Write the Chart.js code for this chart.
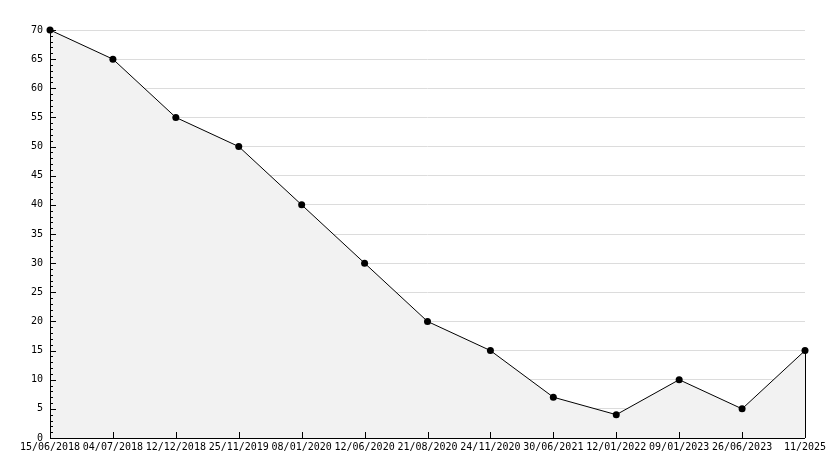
<!DOCTYPE html>
<html>
<head>
<meta charset="utf-8">
<script src="https://cdn.jsdelivr.net/npm/chart.js@4"></script>
<style>
  html, body { margin: 0; padding: 0; background: #fff; }
  #wrap { width: 834px; height: 468px; }
</style>
</head>
<body>
<div id="wrap"><canvas id="line-chart" width="834" height="468"></canvas></div>
<script>
var dates = [
    "15/06/2018", "04/07/2018", "12/12/2018", "25/11/2019", "08/01/2020",
    "12/06/2020", "21/08/2020", "24/11/2020", "30/06/2021", "12/01/2022",
    "09/01/2023", "26/06/2023", "11/2025"
];
var values = [70, 65, 55, 50, 40, 30, 20, 15, 7, 4, 10, 5, 15];
var yMin = 0;
var yMax = 70;
var yStep = 5;

// axis lines and the inward ticks
var axisPlugin = {
    id: "axisTicks",
    afterDatasetsDraw: function (chart) {
        var ctx = chart.ctx;
        var area = chart.chartArea;
        var xs = chart.scales.x;
        var ys = chart.scales.y;
        ctx.save();
        ctx.strokeStyle = "#000";
        ctx.lineWidth = 1;
        ctx.beginPath();
        ctx.moveTo(area.left + 0.5, area.top);
        ctx.lineTo(area.left + 0.5, area.bottom + 0.5);
        ctx.lineTo(area.right, area.bottom + 0.5);
        for (var v = yMin; v <= yMax; v++) {
            var py = Math.round(ys.getPixelForValue(v)) + 0.5;
            var len = (v % yStep === 0) ? 6 : 3;
            ctx.moveTo(area.left, py);
            ctx.lineTo(area.left + len, py);
        }
        for (var i = 1; i < dates.length - 1; i++) {
            var px = Math.round(xs.getPixelForValue(i)) + 0.5;
            ctx.moveTo(px, area.bottom);
            ctx.lineTo(px, area.bottom - 6);
        }
        var last = dates.length - 1;
        var lx = Math.round(xs.getPixelForValue(last)) + 0.5;
        ctx.moveTo(lx, ys.getPixelForValue(values[last]));
        ctx.lineTo(lx, area.bottom);
        ctx.stroke();
        ctx.restore();
    }
};

new Chart("line-chart", {
    type: "line",
    data: {
        labels: dates,
        datasets: [{
            data: values,
            borderColor: "#000",
            borderWidth: 1,
            backgroundColor: "#f2f2f2",
            fill: "origin",
            tension: 0,
            clip: false,
            pointRadius: 3.5,
            pointBackgroundColor: "#000",
            pointBorderColor: "#000",
            pointBorderWidth: 0
        }]
    },
    options: {
        responsive: false,
        animation: false,
        layout: { padding: { top: 30, right: 29, left: 0, bottom: 0 } },
        plugins: {
            legend: { display: false },
            tooltip: { enabled: false }
        },
        scales: {
            x: {
                offset: false,
                grid: { display: false, drawTicks: false },
                border: { display: false },
                ticks: {
                    color: "#000",
                    font: { family: "DejaVu Sans Mono", size: 10 },
                    maxRotation: 0,
                    autoSkip: false,
                    padding: 3
                },
                afterFit: function (scale) { scale.height = 30; }
            },
            y: {
                min: yMin,
                max: yMax,
                grid: { color: "#dcdcdc", drawTicks: false },
                border: { display: false },
                ticks: {
                    stepSize: yStep,
                    color: "#000",
                    font: { family: "DejaVu Sans Mono", size: 10 },
                    padding: 7
                },
                afterFit: function (scale) { scale.width = 50; }
            }
        }
    },
    plugins: [axisPlugin]
});
</script>
</body>
</html>
